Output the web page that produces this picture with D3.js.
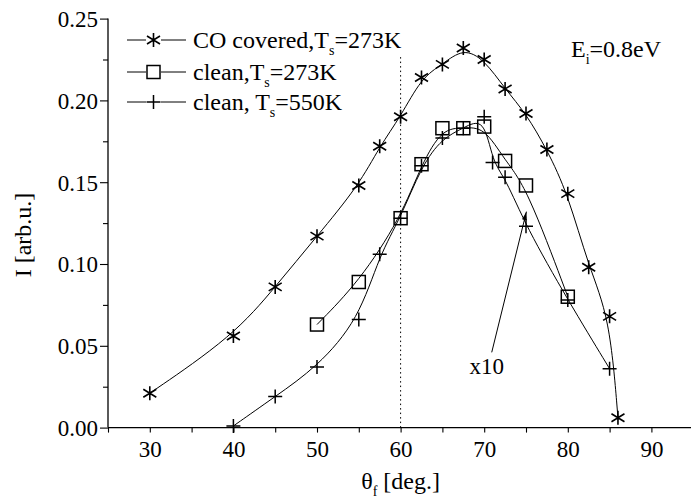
<!DOCTYPE html>
<html>
<head>
<meta charset="utf-8">
<script src="https://cdn.jsdelivr.net/npm/d3@7"></script>
<style>
    body { margin: 0; background: #fff; }
    svg text { font-family: "Liberation Serif", "Times New Roman", Times, "DejaVu Serif", serif; fill: #000; }
</style>
</head>
<body>
<svg id="chart" width="691" height="500"></svg>
<script>
// Data
const coX = [30, 40, 45, 50, 55, 57.5, 60, 62.5, 65, 67.5, 70, 72.5, 75, 77.5, 80, 82.5, 85, 86];
const coY = [0.021, 0.056, 0.086, 0.117, 0.148, 0.172, 0.190, 0.214, 0.222, 0.232, 0.225, 0.207, 0.192, 0.170, 0.143, 0.098, 0.068, 0.006];

const clean273X = [50, 55, 60, 62.5, 65, 67.5, 70, 72.5, 75, 80];
const clean273Y = [0.063, 0.089, 0.128, 0.161, 0.183, 0.183, 0.184, 0.163, 0.148, 0.080];

const clean550X = [40, 45, 50, 55, 57.5, 60, 62.5, 65, 67.5, 70, 71, 72.5, 75, 80, 85];
const clean550Y = [0.001, 0.019, 0.037, 0.066, 0.106, 0.128, 0.160, 0.177, 0.183, 0.190, 0.162, 0.153, 0.123, 0.078, 0.036];

const xTicks = [30, 40, 50, 60, 70, 80, 90];
const yTicks = [0.00, 0.05, 0.10, 0.15, 0.20, 0.25];

// dotted marker at 60 deg, and the "x10" arrow (data units)
const refLineX = 60;
const refLineY = [0, 0.228];
const arrowFrom = [70.9, 0.046];
const arrowTo = [75.05, 0.132];
const x10Label = [70.3, 0.033];

const serif = "'Liberation Serif', 'Times New Roman', Times, 'DejaVu Serif', serif";

let svg = d3.select("#chart");

// Scales
let x = d3.scaleLinear().domain([25, 95]).range([108, 693.2]);
let y = d3.scaleLinear().domain([0, 0.25]).range([427.6, 18.6]);

// Symbols
function asterisk(g) {
    g.append("path")
        .attr("d", "M0,-7V7M-6.5,-4L6.5,4M-6.5,4L6.5,-4")
        .attr("stroke", "#000").attr("stroke-width", 1.6).attr("fill", "none");
}
function square(g) {
    g.append("rect")
        .attr("x", -6.5).attr("y", -6.5).attr("width", 13).attr("height", 13)
        .attr("stroke", "#000").attr("stroke-width", 1.5).attr("fill", "none");
}
function plus(g) {
    g.append("path")
        .attr("d", "M0,-7V7M-7,0H7")
        .attr("stroke", "#000").attr("stroke-width", 1.5).attr("fill", "none");
}

let series = [
    {xs: coX, ys: coY, sym: asterisk},
    {xs: clean273X, ys: clean273Y, sym: square},
    {xs: clean550X, ys: clean550Y, sym: plus}
];

// Axes
let xAxis = d3.axisBottom(x).tickValues(d3.range(25, 96, 5)).tickSize(5)
    .tickFormat(function (d) { return xTicks.indexOf(d) >= 0 ? d : ""; });
let gx = svg.append("g").attr("transform", "translate(0," + y(0) + ")").call(xAxis);
gx.attr("font-family", null).attr("font-size", null);
gx.select(".domain").attr("d", "M" + x(25) + ",0H" + x(95)).attr("stroke-width", 1.3);
gx.selectAll(".tick line").attr("stroke-width", 1.1);
gx.selectAll(".tick text").attr("dy", null).attr("y", 29)
    .style("font-size", "23px").style("font-family", serif);

let yAxis = d3.axisLeft(y).tickValues(d3.range(0, 11).map(function (i) { return i * 0.025; }))
    .tickSize(5).tickPadding(6)
    .tickFormat(function (d, i) { return i % 2 === 0 ? d3.format(".2f")(d) : ""; });
let gy = svg.append("g").attr("transform", "translate(" + x(25) + ",0)").call(yAxis);
gy.attr("font-family", null).attr("font-size", null);
gy.select(".domain").attr("d", "M0," + y(0) + "V" + y(0.25)).attr("stroke-width", 1.3);
gy.selectAll(".tick line").attr("x2", function (d, i) { return i % 2 === 0 ? -8 : -5; })
    .attr("stroke-width", 1.1);
gy.selectAll(".tick text").attr("x", -10).attr("dy", "0.34em")
    .style("font-size", "23px").style("font-family", serif);

// Dotted reference line
svg.append("line")
    .attr("x1", x(refLineX)).attr("x2", x(refLineX))
    .attr("y1", y(refLineY[0])).attr("y2", y(refLineY[1]))
    .attr("stroke", "#000").attr("stroke-width", 1)
    .attr("stroke-dasharray", "1.5,3");

// Lines (B-spline like Origin)
let line = d3.line().curve(d3.curveBasis)
    .x(function (d) { return x(d[0]); })
    .y(function (d) { return y(d[1]); });

series.forEach(function (s) {
    let pts = s.xs.map(function (v, i) { return [v, s.ys[i]]; });
    svg.append("path").datum(pts)
        .attr("d", line)
        .attr("fill", "none").attr("stroke", "#000").attr("stroke-width", 1);
    pts.forEach(function (p) {
        let g = svg.append("g").attr("transform", "translate(" + x(p[0]) + "," + y(p[1]) + ")");
        s.sym(g);
    });
});

// Arrow annotation
svg.append("defs").append("marker")
    .attr("id", "head").attr("viewBox", "0 0 10 6")
    .attr("refX", 10).attr("refY", 3)
    .attr("markerWidth", 10).attr("markerHeight", 5)
    .attr("markerUnits", "userSpaceOnUse")
    .attr("orient", "auto")
    .append("path").attr("d", "M0,0L10,3L0,6Z").attr("fill", "#000");

svg.append("line")
    .attr("x1", x(arrowFrom[0])).attr("y1", y(arrowFrom[1]))
    .attr("x2", x(arrowTo[0])).attr("y2", y(arrowTo[1]))
    .attr("stroke", "#000").attr("stroke-width", 1)
    .attr("marker-end", "url(#head)");

svg.append("text")
    .attr("x", x(x10Label[0])).attr("y", y(x10Label[1]))
    .attr("text-anchor", "middle")
    .style("font-size", "23px").style("font-family", serif)
    .text("x10");

// Legend
let legendRows = [
    {sym: asterisk, main: "CO covered,T", tail: "=273K"},
    {sym: square, main: "clean,T", tail: "=273K"},
    {sym: plus, main: "clean, T", tail: "=550K"}
];
let legendY = [40, 72, 102];

legendRows.forEach(function (r, i) {
    let cy = legendY[i];
    svg.append("line").attr("x1", 127).attr("x2", 146).attr("y1", cy).attr("y2", cy)
        .attr("stroke", "#000").attr("stroke-width", 1);
    svg.append("line").attr("x1", 161).attr("x2", 186).attr("y1", cy).attr("y2", cy)
        .attr("stroke", "#000").attr("stroke-width", 1);
    let g = svg.append("g").attr("transform", "translate(153.5," + cy + ")");
    r.sym(g);
    let t = svg.append("text").attr("x", 193).attr("y", cy + 8)
        .style("font-size", "24px").style("font-family", serif);
    t.append("tspan").text(r.main);
    t.append("tspan").attr("dy", 7).style("font-size", "14px").text("s");
    t.append("tspan").attr("dy", -7).text(r.tail);
});

// Energy label
let e = svg.append("text").attr("x", 571).attr("y", 57)
    .style("font-size", "24px").style("font-family", serif);
e.append("tspan").text("E");
e.append("tspan").attr("dy", 7).style("font-size", "14px").text("i");
e.append("tspan").attr("dy", -7).text("=0.8eV");

// Axis titles
let xt = svg.append("text").attr("x", x(60)).attr("y", 489)
    .attr("text-anchor", "middle")
    .style("font-size", "24px").style("font-family", serif);
xt.append("tspan").text("θ");
xt.append("tspan").attr("dy", 7).style("font-size", "14px").text("f");
xt.append("tspan").attr("dy", -7).text(" [deg.]");

svg.append("text")
    .attr("transform", "translate(31,235) rotate(-90)")
    .attr("text-anchor", "middle")
    .style("font-size", "24px").style("font-family", serif)
    .text("I [arb.u.]");
</script>
</body>
</html>
